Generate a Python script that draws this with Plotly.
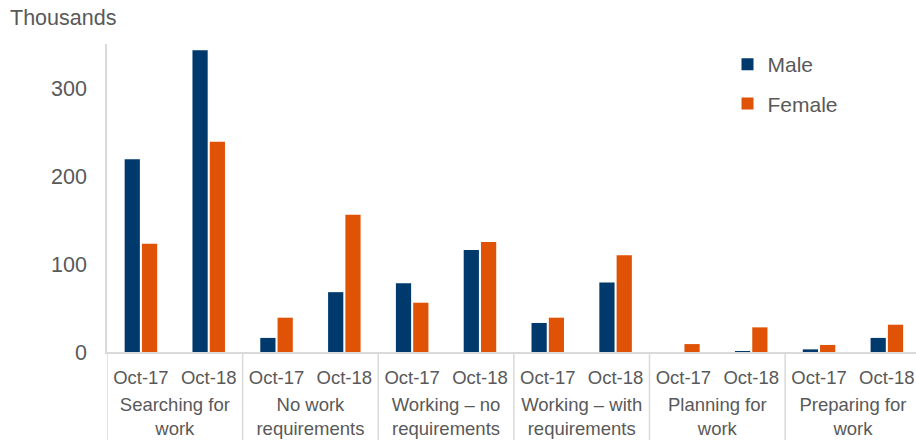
import plotly.graph_objects as go

# Benefit status groups and survey periods
groups = ["Searching for<br>work", "No work<br>requirements", "Working – no<br>requirements",
          "Working – with<br>requirements", "Planning for<br>work", "Preparing for<br>work"]
periods = ["Oct-17", "Oct-18"]

# Claimant counts (thousands), ordered group by group, Oct-17 then Oct-18
male = [219, 343, 16, 68, 78, 116, 33, 79, 0, 1, 3, 16]
female = [123, 239, 39, 156, 56, 125, 39, 110, 9, 28, 8, 31]

y_ticks = [0, 100, 200, 300]

n_per = len(periods)
slots = list(range(len(groups) * n_per))                     # one slot per period bar pair
slot_labels = [p for _ in groups for p in periods]
group_centres = [i * n_per + (n_per - 1) / 2 for i in range(len(groups))]
group_edges = [i * n_per - 0.5 for i in range(len(groups))]

MALE_COLOR = "#003A6C"
FEMALE_COLOR = "#E05206"
TEXT_COLOR = "#595959"
AXIS_COLOR = "#D9D9D9"
X_RANGE = [-0.5, 11.43]

fig = go.Figure()
fig.add_trace(go.Bar(x=slots, y=male, name="Male",
                     marker=dict(color=MALE_COLOR, line=dict(width=0)),
                     legendgroup="m"))
fig.add_trace(go.Bar(x=slots, y=female, name="Female",
                     marker=dict(color=FEMALE_COLOR, line=dict(width=0)),
                     legendgroup="f"))
# invisible carrier so the group-label axis is rendered
fig.add_trace(go.Scatter(x=group_centres, y=[0] * len(groups), xaxis="x2",
                         mode="markers", marker=dict(opacity=0),
                         showlegend=False, hoverinfo="skip"))

# group dividers running from the baseline down through the label rows
shapes = [dict(type="line", xref="x", yref="paper", x0=e, x1=e, y0=0, y1=-0.3,
               line=dict(color=AXIS_COLOR, width=1.5))
          for e in group_edges]

fig.update_layout(
    width=916, height=440,
    margin=dict(l=107, r=0, t=44, b=88, autoexpand=False),
    paper_bgcolor="white", plot_bgcolor="white",
    font=dict(family="Liberation Sans, Arial, sans-serif", color=TEXT_COLOR, size=19),
    barmode="group", bargap=0.49, bargroupgap=0.12,
    showlegend=True,
    legend=dict(x=0.767, y=1.0, xanchor="left", yanchor="top",
                font=dict(size=21, color=TEXT_COLOR),
                traceorder="grouped", tracegroupgap=9, itemwidth=30,
                bgcolor="rgba(0,0,0,0)"),
    shapes=shapes,
    annotations=[dict(text="Thousands", xref="paper", yref="paper",
                      x=-0.122, y=1.084, xanchor="left", yanchor="middle",
                      showarrow=False, font=dict(size=21.5, color=TEXT_COLOR))],
    xaxis=dict(
        range=X_RANGE, tickmode="array", tickvals=slots, ticktext=slot_labels,
        automargin=False, tickangle=0,
        showline=True, linecolor=AXIS_COLOR, linewidth=1.5,
        ticks="", showgrid=False, zeroline=False,
        tickfont=dict(size=18.5, color=TEXT_COLOR),
        ticklabelstandoff=8,
    ),
    xaxis2=dict(
        overlaying="x", side="bottom", anchor="y", matches="x",
        range=X_RANGE, tickmode="array", tickvals=group_centres, ticktext=groups,
        automargin=False, tickangle=0,
        showline=False, ticks="", showgrid=False, zeroline=False,
        tickfont=dict(size=18.5, color=TEXT_COLOR),
        ticklabelstandoff=39,
    ),
    yaxis=dict(
        range=[0, 350], tickvals=y_ticks,
        automargin=False,
        showline=True, linecolor=AXIS_COLOR, linewidth=1.5,
        showgrid=False, zeroline=False, ticks="",
        tickfont=dict(size=21.5, color=TEXT_COLOR),
        ticklabelstandoff=14,
    ),
)

fig.write_html("out.html")
